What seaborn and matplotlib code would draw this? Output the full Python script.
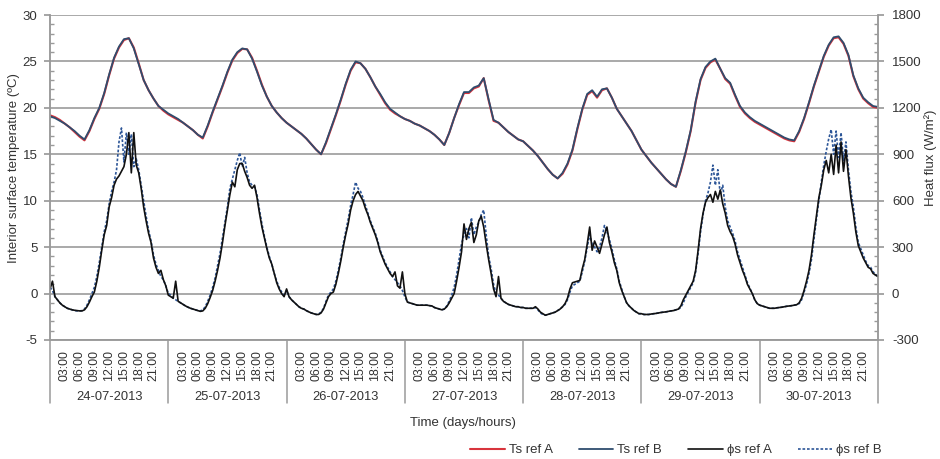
import numpy as np
import pandas as pd
import matplotlib
matplotlib.use("Agg")
import matplotlib.pyplot as plt
import matplotlib.transforms as mtransforms
from matplotlib.lines import Line2D
from matplotlib.ticker import MultipleLocator
import seaborn as sns

# ---------------------------------------------------------------- data
days = ["24-07-2013", "25-07-2013", "26-07-2013", "27-07-2013",
        "28-07-2013", "29-07-2013", "30-07-2013"]
hour_labels = ["03:00", "06:00", "09:00", "12:00", "15:00", "18:00", "21:00"]

# interior surface temperature (ºC), hourly, 24-07 00:00 -> 31-07 00:00
ts_ref_a = [
    19.2, 19.0, 18.7, 18.3, 17.9, 17.4, 16.9, 16.5, 17.5, 18.8, 19.9, 21.5,
    23.5, 25.3, 26.5, 27.3, 27.5, 26.5, 24.8, 23.0, 21.9, 21.0, 20.2, 19.7,
    19.3, 19.0, 18.7, 18.4, 18.0, 17.6, 17.1, 16.7, 18.0, 19.5, 20.9, 22.3,
    23.8, 25.1, 25.9, 26.35, 26.3, 25.4, 24.0, 22.5, 21.2, 20.2, 19.5, 18.9,
    18.4, 18.0, 17.6, 17.2, 16.7, 16.1, 15.5, 15.0, 16.2, 17.7, 19.2, 20.8,
    22.5, 24.0, 24.9, 24.8, 24.2, 23.3, 22.3, 21.4, 20.5, 19.8, 19.4, 19.1,
    18.8, 18.6, 18.3, 18.1, 17.8, 17.5, 17.1, 16.6, 16.0, 17.3, 18.9, 20.3,
    21.6, 21.6, 22.1, 22.3, 23.2, 20.8, 18.6, 18.4, 17.9, 17.4, 17.0, 16.6,
    16.4, 15.9, 15.4, 14.8, 14.1, 13.4, 12.8, 12.4, 12.9, 13.9, 15.4, 17.7,
    19.8, 21.4, 21.8, 21.1, 21.9, 22.1, 21.1, 19.9, 19.1, 18.3, 17.5, 16.5,
    15.5, 14.8, 14.1, 13.5, 12.9, 12.3, 11.8, 11.5, 13.2, 15.2, 17.5, 20.6,
    23.0, 24.3, 24.9, 25.2, 24.2, 23.1, 22.6, 21.3, 20.1, 19.4, 18.9, 18.5,
    18.2, 17.9, 17.6, 17.3, 17.0, 16.7, 16.5, 16.4, 17.4, 18.8, 20.5, 22.3,
    23.9, 25.5, 26.7, 27.5, 27.6, 26.9, 25.6, 23.4, 22.0, 21.0, 20.5, 20.1,
    20.0,
]
ts_ref_b = [
    19.1, 18.9, 18.6, 18.3, 17.9, 17.5, 17.0, 16.6, 17.6, 18.9, 20.0, 21.6,
    23.6, 25.4, 26.6, 27.4, 27.5, 26.4, 24.7, 23.0, 21.9, 21.0, 20.2, 19.8,
    19.4, 19.1, 18.8, 18.4, 18.0, 17.6, 17.1, 16.8, 18.1, 19.6, 21.0, 22.4,
    23.9, 25.2, 26.0, 26.4, 26.3, 25.3, 23.9, 22.4, 21.2, 20.2, 19.5, 18.9,
    18.4, 18.0, 17.6, 17.2, 16.7, 16.1, 15.5, 15.0, 16.3, 17.8, 19.3, 20.9,
    22.6, 24.1, 25.0, 24.8, 24.2, 23.3, 22.3, 21.5, 20.6, 19.9, 19.5, 19.1,
    18.8, 18.6, 18.3, 18.1, 17.8, 17.5, 17.1, 16.6, 16.0, 17.3, 18.9, 20.4,
    21.7, 21.7, 22.2, 22.4, 23.2, 20.9, 18.7, 18.4, 17.9, 17.4, 17.0, 16.6,
    16.4, 15.9, 15.4, 14.8, 14.1, 13.4, 12.8, 12.4, 13.0, 14.0, 15.5, 17.8,
    19.9, 21.5, 21.9, 21.2, 22.0, 22.1, 21.1, 19.9, 19.1, 18.3, 17.5, 16.5,
    15.5, 14.8, 14.1, 13.5, 12.9, 12.3, 11.8, 11.5, 13.3, 15.3, 17.6, 20.7,
    23.1, 24.4, 25.0, 25.3, 24.2, 23.2, 22.7, 21.4, 20.2, 19.5, 19.0, 18.6,
    18.3, 18.0, 17.7, 17.4, 17.1, 16.8, 16.6, 16.5, 17.5, 18.9, 20.6, 22.4,
    24.0, 25.6, 26.8, 27.6, 27.7, 27.0, 25.7, 23.5, 22.1, 21.1, 20.6, 20.2,
    20.1,
]

# surface heat flux (W/m²), half-hourly, one list per day
phi_a_24 = [30, 80, -20, -40, -60, -75, -85, -95, -100, -105, -108, -110,
            -112, -112, -105, -85, -55, -20, 10, 80, 170, 280, 380, 440,
            560, 620, 700, 740, 760, 790, 820, 900, 1040, 780, 1040, 830,
            780, 680, 560, 470, 390, 330, 230, 170, 130, 150, 90, 50]
phi_a_25 = [-10, -20, -30, 80, -50, -60, -70, -80, -88, -95, -100, -105,
            -110, -115, -112, -95, -65, -25, 20, 80, 150, 230, 330, 440,
            540, 640, 720, 690, 800, 840, 840, 790, 750, 700, 680, 700,
            620, 520, 430, 360, 290, 230, 190, 130, 70, 30, 0, -20]
phi_a_26 = [30, -20, -40, -55, -70, -85, -95, -100, -110, -118, -125, -130,
            -135, -135, -125, -100, -60, -20, 0, 10, 60, 130, 210, 300,
            380, 450, 540, 600, 640, 660, 630, 600, 550, 510, 460, 420,
            380, 330, 270, 230, 190, 160, 130, 110, 140, 50, 35, 140]
phi_a_27 = [0, -55, -60, -65, -70, -75, -75, -75, -75, -75, -78, -80,
            -90, -95, -100, -105, -100, -85, -60, -30, 0, 80, 170, 270,
            450, 350, 420, 460, 330, 380, 470, 500, 430, 320, 220, 130,
            30, -20, 110, -30, -50, -60, -70, -75, -80, -85, -85, -90]
phi_a_28 = [-90, -95, -95, -95, -95, -85, -100, -120, -130, -140, -135, -130,
            -125, -120, -110, -100, -85, -65, -30, 30, 70, 75, 80, 85,
            160, 220, 320, 430, 280, 340, 300, 260, 320, 380, 430, 330,
            270, 200, 150, 70, 20, -20, -60, -80, -95, -110, -120, -130]
phi_a_29 = [-130, -135, -135, -135, -132, -130, -128, -125, -122, -120, -118, -115,
            -112, -110, -105, -100, -80, -40, -10, 20, 50, 80, 150, 280,
            420, 520, 590, 620, 640, 590, 660, 610, 670, 580, 520, 440,
            400, 370, 320, 250, 200, 150, 110, 60, 30, 0, -40, -65]
phi_a_30 = [-75, -80, -85, -90, -95, -95, -95, -92, -90, -88, -85, -82,
            -80, -78, -75, -72, -60, -30, 20, 80, 150, 250, 380, 500,
            620, 700, 800, 860, 780, 900, 770, 960, 780, 980, 790, 930,
            760, 620, 520, 400, 310, 270, 230, 200, 170, 160, 130, 120]
phi_a_end = 110

phi_b_24 = [40, 20, -20, -40, -60, -75, -85, -95, -100, -105, -110, -112,
            -112, -110, -100, -75, -40, 0, 40, 110, 200, 300, 400, 470,
            580, 660, 720, 800, 980, 1070, 850, 1040, 900, 1030, 820, 870,
            800, 700, 600, 500, 410, 340, 250, 190, 150, 110, 90, 50]
phi_b_25 = [0, -10, -30, -40, -50, -60, -70, -80, -88, -95, -100, -105,
            -110, -112, -105, -85, -50, -10, 40, 100, 180, 260, 360, 460,
            560, 680, 740, 800, 860, 910, 820, 880, 780, 720, 700, 690,
            640, 540, 450, 370, 300, 240, 190, 130, 80, 40, 10, -10]
phi_b_26 = [20, -20, -40, -55, -70, -85, -95, -100, -110, -118, -125, -130,
            -135, -132, -120, -95, -50, -10, 10, 30, 80, 150, 230, 320,
            400, 480, 570, 640, 720, 680, 660, 620, 570, 520, 470, 430,
            390, 340, 280, 240, 200, 170, 140, 110, 90, 70, 50, 20]
phi_b_27 = [-20, -55, -60, -65, -70, -75, -75, -75, -75, -75, -78, -80,
            -90, -95, -100, -105, -100, -80, -50, -10, 40, 120, 220, 320,
            380, 420, 360, 490, 380, 430, 460, 510, 540, 380, 240, 160,
            60, 0, -10, -30, -50, -60, -70, -75, -80, -85, -85, -90]
phi_b_28 = [-90, -95, -95, -95, -95, -90, -105, -125, -135, -140, -135, -130,
            -125, -120, -110, -100, -85, -70, -40, 10, 50, 60, 70, 80,
            140, 210, 300, 380, 320, 300, 270, 300, 360, 440, 400, 350,
            290, 220, 160, 80, 30, -20, -60, -80, -95, -110, -120, -130]
phi_b_29 = [-130, -135, -135, -135, -132, -130, -128, -125, -122, -120, -118, -115,
            -112, -110, -105, -100, -90, -60, -20, 10, 40, 70, 140, 260,
            400, 510, 600, 650, 720, 830, 700, 800, 640, 700, 560, 470,
            430, 390, 340, 270, 220, 170, 120, 70, 35, 0, -40, -65]
phi_b_30 = [-75, -80, -85, -90, -95, -95, -95, -92, -90, -88, -85, -82,
            -80, -78, -75, -72, -65, -40, 10, 60, 130, 220, 350, 480,
            600, 720, 830, 920, 1000, 1060, 900, 1050, 880, 1040, 860, 980,
            800, 660, 560, 430, 330, 290, 250, 210, 180, 170, 140, 125]
phi_b_end = 110

phi_ref_a = (phi_a_24 + phi_a_25 + phi_a_26 + phi_a_27 + phi_a_28
             + phi_a_29 + phi_a_30 + [phi_a_end])
phi_ref_b = (phi_b_24 + phi_b_25 + phi_b_26 + phi_b_27 + phi_b_28
             + phi_b_29 + phi_b_30 + [phi_b_end])

# elapsed hours since 24-07 00:00
temp_df = pd.DataFrame({"hours": np.arange(len(ts_ref_a), dtype=float),
                        "ts_a": ts_ref_a, "ts_b": ts_ref_b})
flux_df = pd.DataFrame({"hours": np.arange(len(phi_ref_a)) * 0.5,
                        "phi_a": phi_ref_a, "phi_b": phi_ref_b})

# ---------------------------------------------------------------- style
sns.set_theme(style="white")
plt.rcParams["font.family"] = ["Liberation Sans", "DejaVu Sans"]
plt.rcParams["axes.unicode_minus"] = False
GRID = "#a3a3a3"
AXC = "#9a9a9a"
TXT = "#333333"

fig = plt.figure(figsize=(9.4, 4.59), dpi=100)
ax = fig.add_axes([50 / 940, 1 - 340 / 459, 828 / 940, 325 / 459])
ax2 = ax.twinx()

# temperatures on the left axis
sns.lineplot(data=temp_df, x="hours", y="ts_a", ax=ax, color="#d8343c",
             lw=1.5, label="Ts ref A", legend=False)
sns.lineplot(data=temp_df, x="hours", y="ts_b", ax=ax, color="#2f4d6e",
             lw=1.3, label="Ts ref B", legend=False)

# heat flux on the right axis
sns.lineplot(data=flux_df, x="hours", y="phi_b", ax=ax2, color="#2c5597",
             lw=1.2, linestyle=(0, (1.6, 1.1)), label="ϕs ref B", legend=False)
sns.lineplot(data=flux_df, x="hours", y="phi_a", ax=ax2, color="#111111",
             lw=1.2, label="ϕs ref A", legend=False)

# ---------------------------------------------------------------- axes
ax.set_xlim(0, 168)
ax.set_ylim(-5, 30)
ax2.set_ylim(-300, 1800)
ax.yaxis.set_major_locator(MultipleLocator(5))
ax.yaxis.set_minor_locator(MultipleLocator(1))
ax2.yaxis.set_major_locator(MultipleLocator(300))
ax2.yaxis.set_minor_locator(MultipleLocator(60))

ax.set_axisbelow(True)
ax.yaxis.grid(True, which="major", color=GRID, lw=1.3)
ax.xaxis.grid(False)
ax2.grid(False)

for a in (ax, ax2):
    for side in ("left", "right", "bottom"):
        a.spines[side].set_color(AXC)
        a.spines[side].set_linewidth(1.1)
    a.spines["top"].set_visible(False)

ax.tick_params(axis="y", which="major", direction="out", length=4,
               color=AXC, labelsize=9.5, labelcolor=TXT, pad=5)
ax.tick_params(axis="y", which="minor", direction="in", length=3, color=AXC)
ax2.tick_params(axis="y", which="major", direction="out", length=4,
                color=AXC, labelsize=9.5, labelcolor=TXT, pad=6)
ax2.tick_params(axis="y", which="minor", direction="in", length=3, color=AXC)

# hour ticks within each day
hour_pos = [d * 24 + h for d in range(len(days)) for h in range(3, 22, 3)]
ax.set_xticks(hour_pos)
ax.set_xticklabels(hour_labels * len(days), rotation=90)
ax.tick_params(axis="x", which="major", length=0, pad=7, labelsize=8.9,
               labelcolor=TXT)
ax.set_xlabel("")
ax.set_ylabel("")
ax2.set_ylabel("")

# day groups: dividers and date labels under the hours
trans = mtransforms.blended_transform_factory(ax.transData, ax.transAxes)
for d in range(len(days) + 1):
    ax.add_line(Line2D([d * 24, d * 24], [0, -0.195], transform=trans,
                       color=AXC, lw=1.1, clip_on=False))
for d, name in enumerate(days):
    ax.text(d * 24 + 12, -0.175, name, transform=trans, ha="center",
            va="center", fontsize=9.3, color=TXT)

# axis titles
fig.text(14 / 940, 1 - 168 / 459, "Interior surface temperature (ºC)",
         rotation=90, ha="center", va="center", fontsize=9.5, color=TXT)
fig.text(931 / 940, 1 - 158 / 459, "Heat flux (W/m²)",
         rotation=90, ha="center", va="center", fontsize=9.5, color=TXT)
fig.text(463 / 940, 1 - 423 / 459, "Time (days/hours)",
         ha="center", va="center", fontsize=9.5, color=TXT)

# legend
h1, l1 = ax.get_legend_handles_labels()
h2, l2 = ax2.get_legend_handles_labels()
order = {"Ts ref A": 0, "Ts ref B": 1, "ϕs ref A": 2, "ϕs ref B": 3}
pairs = sorted(zip(h1 + h2, l1 + l2), key=lambda p: order[p[1]])
fig.legend([p[0] for p in pairs], [p[1] for p in pairs], loc="center",
           bbox_to_anchor=(676 / 940, 1 - 450 / 459), ncol=4, frameon=False,
           fontsize=9.5, handlelength=2.6, handletextpad=0.3,
           columnspacing=2.0, labelcolor=TXT)

fig.savefig("out.png", dpi=100)
